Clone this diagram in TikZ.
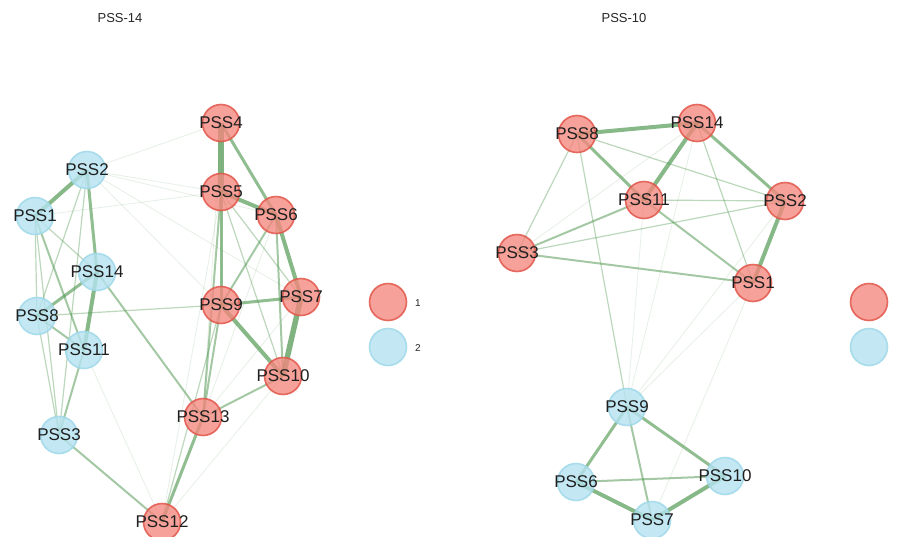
\documentclass[tikz,border=0pt]{standalone}
\usepackage{fontspec}
\setmainfont{Liberation Sans}
\pgfdeclarelayer{bg}
\pgfsetlayers{bg,main}
\definecolor{rf}{HTML}{F4877E}
\definecolor{rd}{HTML}{E2554A}
\definecolor{bf}{HTML}{B5E3F0}
\definecolor{bd}{HTML}{9FD8EA}
\definecolor{eg}{HTML}{4F974F}
\begin{document}
\begin{tikzpicture}[x=1pt,y=-1pt,
  rn/.style={circle,minimum size=37pt,inner sep=0pt,fill=rf,fill opacity=0.78,draw=rd,draw opacity=0.85,line width=1.6pt},
  bn/.style={circle,minimum size=37pt,inner sep=0pt,fill=bf,fill opacity=0.8,draw=bd,draw opacity=0.85,line width=1.6pt},
  lab/.style={font=\fontsize{17}{17}\selectfont,text=black!88,inner sep=0pt},
  ttl/.style={font=\fontsize{13}{13}\selectfont,text=black!85},
  leg/.style={font=\fontsize{10}{10}\selectfont,text=black!85},
  e5/.style={draw=eg,line width=5.5pt,draw opacity=0.72},
  e4/.style={draw=eg,line width=4pt,draw opacity=0.68},
  e3/.style={draw=eg,line width=3pt,draw opacity=0.62},
  e2/.style={draw=eg,line width=2pt,draw opacity=0.52},
  e1/.style={draw=eg,line width=1.2pt,draw opacity=0.38},
  e0/.style={draw=eg,line width=0.8pt,draw opacity=0.14}]
\useasboundingbox (0,0) rectangle (897,536);
% titles
\node[ttl] (t1) at (120,18) {PSS-14};
\node[ttl] (t2) at (624,18) {PSS-10};
% nodes
\foreach \id/\x/\y/\c in {
  A4/221/123/rn, A5/221/192/rn, A6/276/215/rn, A7/301/297/rn, A9/221/305/rn,
  A10/283/376/rn, A13/203/417/rn, A12/162/522/rn,
  A2/87/170/bn, A1/35/216/bn, A14/97/272/bn, A8/37/316/bn, A11/84/350/bn, A3/59/435/bn,
  B8/577/134/rn, B14/697/123/rn, B11/644/200/rn, B2/785/201/rn, B3/517/253/rn, B1/753/283/rn,
  B9/627/407/bn, B6/576/482/bn, B10/725/476/bn, B7/652/520/bn}
  \node[\c] (\id) at (\x,\y) {};
% labels
\foreach \id/\t in {A4/PSS4, A5/PSS5, A6/PSS6, A7/PSS7, A9/PSS9, A10/PSS10, A13/PSS13, A12/PSS12,
  A2/PSS2, A1/PSS1, A14/PSS14, A8/PSS8, A11/PSS11, A3/PSS3,
  B8/PSS8, B14/PSS14, B11/PSS11, B2/PSS2, B3/PSS3, B1/PSS1, B9/PSS9, B6/PSS6, B10/PSS10, B7/PSS7}
  \node[lab] (t\id) at (\id) {\t};
% edges
\begin{pgfonlayer}{bg}
\fill[white] (0,0) rectangle (897,536);
\foreach \a/\b/\s in {
  A4/A5/e5, A4/A6/e3, A5/A6/e4, A6/A7/e4, A7/A10/e5, A9/A10/e4, A9/A7/e3, A5/A9/e3,
  A6/A9/e2, A6/A10/e2, A5/A13/e2, A9/A13/e2, A13/A10/e2, A13/A12/e3,
  A2/A1/e4, A2/A14/e3, A14/A11/e4, A14/A8/e3, A1/A11/e2, A1/A8/e1, A1/A3/e1, A1/A14/e1,
  A2/A8/e1, A2/A3/e1, A8/A11/e2, A8/A3/e1, A11/A3/e2, A8/A9/e1, A14/A13/e2, A3/A12/e2,
  A4/A2/e0, A2/A5/e0, A2/A6/e0, A2/A7/e0, A5/A7/e1, A5/A10/e1, A4/A9/e0, A4/A13/e0,
  A9/A12/e1, A5/A12/e0, A10/A12/e0, A11/A12/e0, A13/A7/e0, A6/A13/e0, A2/A9/e0, A1/A5/e0,
  B8/B14/e4, B14/B11/e4, B14/B2/e3, B2/B1/e4, B8/B11/e3, B8/B2/e1, B8/B3/e1, B8/B9/e1,
  B11/B1/e2, B11/B3/e2, B11/B2/e1, B3/B2/e1, B3/B1/e2, B3/B14/e0, B14/B1/e1,
  B14/B9/e0, B11/B9/e0, B1/B9/e0, B2/B9/e0, B1/B7/e0,
  B9/B6/e3, B9/B10/e3, B9/B7/e2, B6/B10/e2, B6/B7/e4, B7/B10/e4}
  \draw[\s] (\a.center) -- (\b.center);
\end{pgfonlayer}
% legends
\node[rn] (L1) at (388,302) {};
\node[bn] (L2) at (388,347) {};
\node[leg] (L1t) at (418,303) {1};
\node[leg] (L2t) at (418,348) {2};
\node[rn] (R1) at (869,302) {};
\node[bn] (R2) at (869,347) {};
\end{tikzpicture}
\end{document}
